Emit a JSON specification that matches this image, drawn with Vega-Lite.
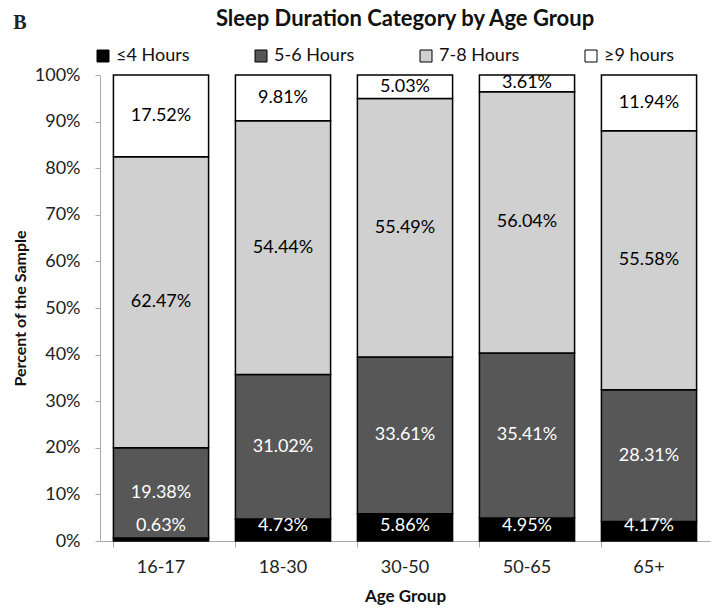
{
  "$schema": "https://vega.github.io/schema/vega-lite/v6.json",
  "padding": {"left": 12, "top": 8, "right": 8, "bottom": 6},
  "background": "white",
  "title": {"text": "B", "anchor": "start", "frame": "bounds", "font": "Liberation Serif", "fontSize": 20, "fontWeight": "bold", "color": "#222", "offset": -25, "dx": 1},
  "data": {"values": [
    {"age": "16-17", "category": "≤4 Hours", "order": 1, "value": 0.63},
    {"age": "16-17", "category": "5-6 Hours", "order": 2, "value": 19.38},
    {"age": "16-17", "category": "7-8 Hours", "order": 3, "value": 62.47},
    {"age": "16-17", "category": "≥9 hours", "order": 4, "value": 17.52},
    {"age": "18-30", "category": "≤4 Hours", "order": 1, "value": 4.73},
    {"age": "18-30", "category": "5-6 Hours", "order": 2, "value": 31.02},
    {"age": "18-30", "category": "7-8 Hours", "order": 3, "value": 54.44},
    {"age": "18-30", "category": "≥9 hours", "order": 4, "value": 9.81},
    {"age": "30-50", "category": "≤4 Hours", "order": 1, "value": 5.86},
    {"age": "30-50", "category": "5-6 Hours", "order": 2, "value": 33.61},
    {"age": "30-50", "category": "7-8 Hours", "order": 3, "value": 55.49},
    {"age": "30-50", "category": "≥9 hours", "order": 4, "value": 5.03},
    {"age": "50-65", "category": "≤4 Hours", "order": 1, "value": 4.95},
    {"age": "50-65", "category": "5-6 Hours", "order": 2, "value": 35.41},
    {"age": "50-65", "category": "7-8 Hours", "order": 3, "value": 56.04},
    {"age": "50-65", "category": "≥9 hours", "order": 4, "value": 3.61},
    {"age": "65+", "category": "≤4 Hours", "order": 1, "value": 4.17},
    {"age": "65+", "category": "5-6 Hours", "order": 2, "value": 28.31},
    {"age": "65+", "category": "7-8 Hours", "order": 3, "value": 55.58},
    {"age": "65+", "category": "≥9 hours", "order": 4, "value": 11.94}
  ]},
  "resolve": {"legend": {"color": "independent"}},
  "vconcat": [
    {
      "width": 610,
      "height": 466,
      "title": {"text": "Sleep Duration Category by Age Group", "font": "Lato", "fontSize": 22, "fontWeight": "bold", "color": "#111", "anchor": "middle", "offset": 16},
      "transform": [
        {"stack": "value", "groupby": ["age"], "sort": [{"field": "order", "order": "ascending"}], "as": ["y0", "y1"]},
        {"calculate": "max((datum.y0 + datum.y1) / 2, 3.2)", "as": "mid"},
        {"calculate": "format(datum.value, '.2f') + '%'", "as": "label"}
      ],
      "encoding": {
        "x": {
          "field": "age", "type": "nominal", "sort": ["16-17", "18-30", "30-50", "50-65", "65+"],
          "scale": {"paddingInner": 0.22, "paddingOuter": 0.11},
          "axis": {"title": "Age Group", "labelAngle": 0, "bandPosition": 0, "labelPadding": 11, "tickSize": 6, "tickColor": "#aaa", "domainColor": "#aaa", "labelFontSize": 18, "labelColor": "#222", "titleFontSize": 17, "titleFontWeight": "bold", "titleColor": "#111", "titlePadding": 12}
        }
      },
      "layer": [
        {
          "mark": {"type": "bar", "stroke": "black", "strokeWidth": 1.5},
          "encoding": {
            "y": {
              "field": "y1", "type": "quantitative",
              "scale": {"domain": [0, 100], "nice": false},
              "axis": {"title": "Percent of the Sample", "values": [0, 10, 20, 30, 40, 50, 60, 70, 80, 90, 100], "labelExpr": "datum.value + '%'", "grid": false, "tickSize": 5, "tickColor": "#aaa", "domainColor": "#aaa", "labelFontSize": 18, "labelColor": "#222", "labelPadding": 15, "titleFontSize": 16, "titleFontWeight": "bold", "titleColor": "#111", "titlePadding": 6}
            },
            "y2": {"field": "y0"},
            "color": {
              "field": "category", "type": "nominal",
              "scale": {"domain": ["≤4 Hours", "5-6 Hours", "7-8 Hours", "≥9 hours"], "range": ["#000000", "#575757", "#d0d0d0", "#ffffff"]},
              "legend": {"title": null, "orient": "none", "legendX": -6, "legendY": -28, "direction": "horizontal", "columns": 4, "padding": 0, "symbolType": "square", "symbolSize": 144, "symbolStrokeColor": "black", "symbolStrokeWidth": 1, "labelFontSize": 18, "labelColor": "#111", "columnPadding": 62, "labelOffset": 4}
            }
          }
        },
        {
          "mark": {"type": "text", "fontSize": 18, "baseline": "middle"},
          "encoding": {
            "y": {"field": "mid", "type": "quantitative"},
            "text": {"field": "label"},
            "color": {"condition": {"test": "datum.order <= 2", "value": "white"}, "value": "black"}
          }
        }
      ]
    }
  ],
  "config": {
    "font": "Lato",
    "view": {"stroke": null},
    "axis": {"labelFont": "Lato", "titleFont": "Lato"},
    "legend": {"labelFont": "Lato"}
  }
}
